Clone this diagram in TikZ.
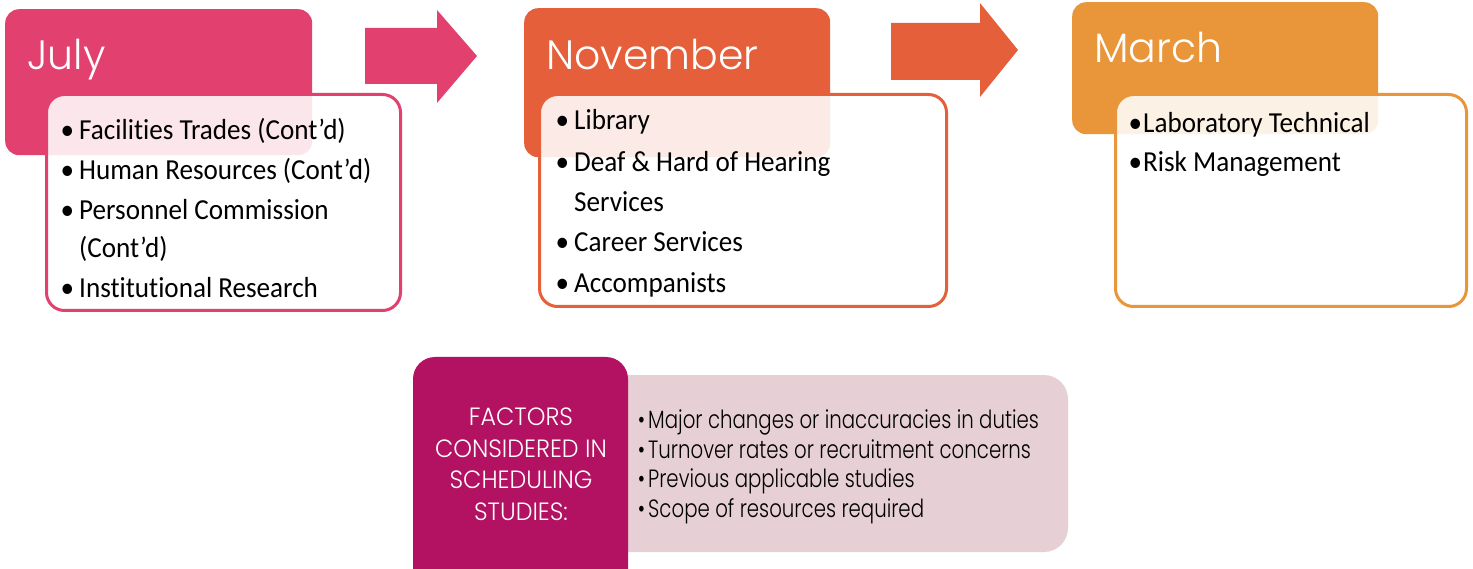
\documentclass[tikz,border=0pt]{standalone}
\usepackage{fontspec}
\setmainfont{Carlito}[FakeStretch=0.935,Ligatures=NoCommon]
\IfFontExistsTF{Poppins Light}{\def\headname{Poppins Light}}{\def\headname{Poppins}}
\newfontfamily\headfont{\headname}
\newfontfamily\factfont[FakeStretch=0.95]{\headname}
\newfontfamily\narrowfont[FakeStretch=0.79]{\headname}
\definecolor{julyc}{RGB}{226,64,110}
\definecolor{novc}{RGB}{229,95,58}
\definecolor{marc}{RGB}{233,149,58}
\definecolor{factc}{RGB}{179,17,98}
\definecolor{factbg}{RGB}{230,207,213}
\def\bul#1{\llap{\textbullet\hspace{#1}}}
\begin{document}
\begin{tikzpicture}[x=1pt,y=-1pt,line join=round,
	head/.style={rounded corners=14pt,inner sep=0,anchor=north west},
	bodybox/.style={draw,line width=3pt,fill=white,fill opacity=0.87,rounded corners=18pt,inner sep=0,anchor=north west},
	month/.style={font=\headfont\fontsize{41}{44}\selectfont,text=white,anchor=base west,inner sep=0},
	item/.style={font=\fontsize{29}{34}\selectfont,anchor=base west,inner sep=0},
	fact/.style={font=\factfont\fontsize{25}{28}\selectfont,text=white,anchor=base,inner sep=0},
	factitem/.style={font=\narrowfont\fontsize{25}{28}\selectfont,anchor=base west,inner sep=0}]
		\useasboundingbox (0,0) rectangle (1473,569);
		% month headers
		\node[head,fill=julyc,minimum width=307pt,minimum height=146pt] (julyh) at (5,9) {};
		\node[head,fill=novc,minimum width=306pt,minimum height=149pt] (novh) at (524,8) {};
		\node[head,fill=marc,minimum width=306pt,minimum height=132pt] (marh) at (1072,2) {};
		\node[month] (julyt) at (27,70) {July};
		\node[month] (novt) at (546,70) {November};
		\node[month] (mart) at (1094,63) {March};
		% block arrows
		\fill[julyc] (365,28)--(437,28)--(437,10)--(477,56)--(437,103)--(437,84)--(365,84)--cycle;
		\fill[novc] (891,23)--(980,23)--(980,3)--(1018,50)--(980,97)--(980,80)--(891,80)--cycle;
		% lists
		\node[bodybox,draw=julyc,minimum width=354pt,minimum height=216pt] (julyb) at (45,93) {};
		\node[bodybox,draw=novc,minimum width=407pt,minimum height=212pt] (novb) at (538,93) {};
		\node[bodybox,draw=marc,minimum width=351pt,minimum height=212pt] (marb) at (1114,93) {};
		\foreach \y/\t [count=\i] in {140/{\bul{5pt}Facilities Trades (Cont’d)},180/{\bul{5pt}Human Resources (Cont’d)},
			220/{\bul{5pt}Personnel Commission},258/{(Cont’d)},298/{\bul{5pt}Institutional Research}}
			\node[item] (jul\i) at (79,\y) {\t};
		\foreach \y/\t [count=\i] in {130/{\bul{5pt}Library},172/{\bul{5pt}Deaf \& Hard of Hearing},
			212/{Services},252/{\bul{5pt}Career Services},293/{\bul{5pt}Accompanists}}
			\node[item] (nov\i) at (574,\y) {\t};
		\foreach \y/\t [count=\i] in {133/{\bul{1pt}Laboratory Technical},172/{\bul{1pt}Risk Management}}
			\node[item] (mar\i) at (1143,\y) {\t};
		% factors
		\fill[factbg,rounded corners=24pt] (600,375) rectangle (1068,552);
		\fill[factc,rounded corners=22pt] (413,357) rectangle (628,600);
		\foreach \y/\t [count=\i] in {425/FACTORS,457/CONSIDERED IN,488/SCHEDULING,520/STUDIES:}
			\node[fact] (fac\i) at (521,\y) {\t};
		\foreach \y/\t [count=\i] in {428/{Major changes or inaccuracies in duties},458/{Turnover rates or recruitment concerns},
			487/{Previous applicable studies},517/{Scope of resources required}}
			\node[factitem] (fit\i) at (648,\y) {\bul{3pt}\t};
\end{tikzpicture}
\end{document}
